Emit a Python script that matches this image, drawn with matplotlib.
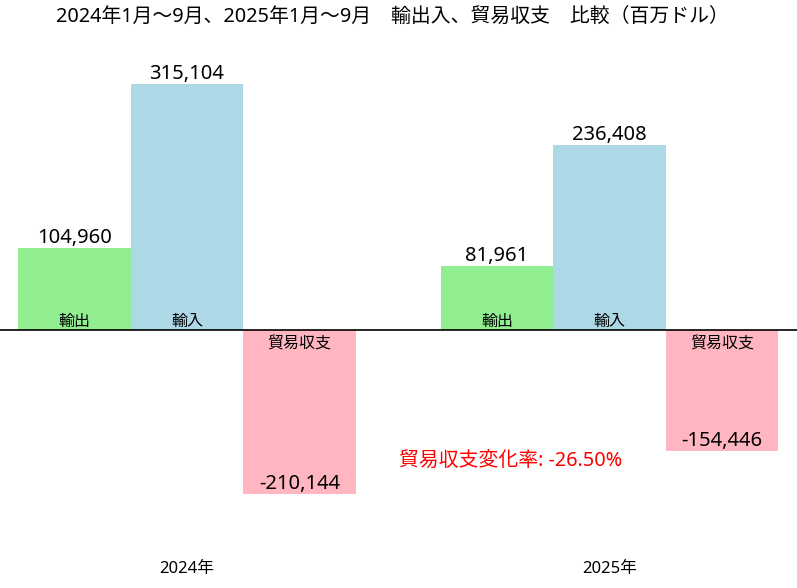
import matplotlib
matplotlib.use("Agg")
import matplotlib.pyplot as plt
import numpy as np

plt.rcParams['font.family'] = ['Noto Sans', 'Noto Sans CJK JP']

years = ['2024年', '2025年']
names = ['輸出', '輸入', '貿易収支']
exports = [104960, 81961]
imports = [315104, 236408]
balance = [-210144, -154446]
colors = ['lightgreen', 'lightblue', 'lightpink']

rate = (balance[1] - balance[0]) / balance[0] * 100

fig = plt.figure(figsize=(7.97, 5.88), dpi=100)
ax = fig.add_axes([0, 0.0595, 1, 0.881])

w = 0.2663
x = np.arange(len(years))
series = [exports, imports, balance]
for j, vals in enumerate(series):
    pos = x + (j - 1) * w
    ax.bar(pos, vals, width=w, color=colors[j])
    for p, v in zip(pos, vals):
        if v >= 0:
            ax.annotate(f'{v:,}', (p, v), xytext=(0, 0), textcoords='offset points',
                        ha='center', va='bottom', fontsize=14.5)
            ax.annotate(names[j], (p, 0), xytext=(0, 0), textcoords='offset points',
                        ha='center', va='bottom', fontsize=11.5)
        else:
            ax.annotate(f'{v:,}', (p, v), xytext=(0, 0), textcoords='offset points',
                        ha='center', va='bottom', fontsize=14.5)
            ax.annotate(names[j], (p, 0), xytext=(0, -5), textcoords='offset points',
                        ha='center', va='top', fontsize=11.5)

ax.axhline(0, color='black', lw=1.2)
ax.text(0.767, -169000, f'貿易収支変化率: {rate:.2f}%', color='red', fontsize=14.3,
        ha='center', va='center')

ax.set_xlim(-0.4426, 1.4438)
ax.set_ylim(-285640, 377870)
ax.set_xticks(x)
ax.set_xticklabels(years, fontsize=12)
ax.tick_params(axis='x', length=0, pad=6)
ax.set_yticks([])
for s in ax.spines.values():
    s.set_visible(False)

fig.text(392 / 797, 1 - 17 / 588, '2024年1月～9月、2025年1月～9月　輸出入、貿易収支　比較（百万ドル）',
         ha='center', va='center', fontsize=14.3)

fig.savefig('out.png', dpi=100)
